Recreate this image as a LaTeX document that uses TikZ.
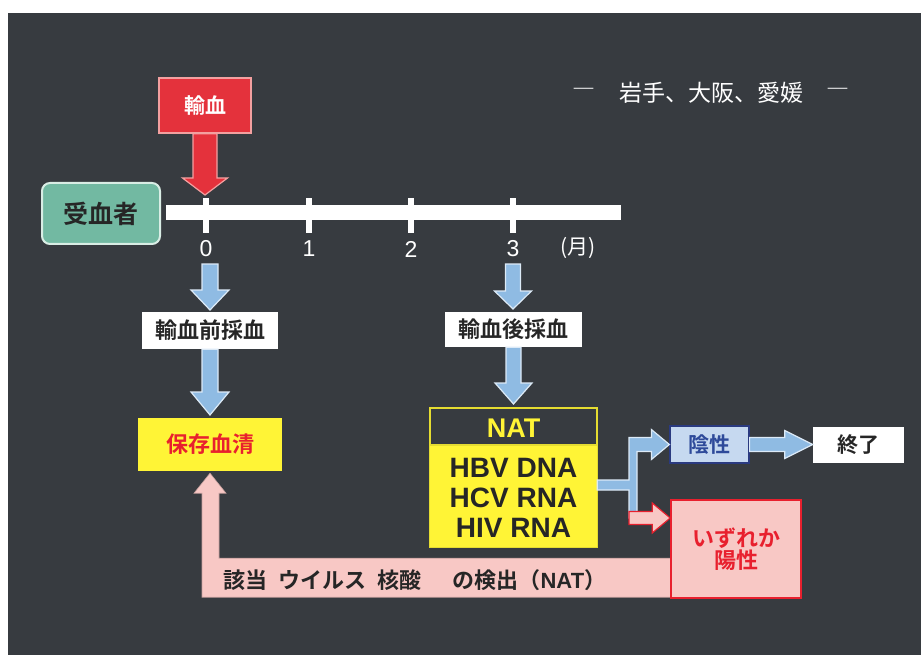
\documentclass[tikz,border=0pt]{standalone}
\usepackage{fontspec}
\setmainfont{Noto Sans CJK JP}[BoldFont={Noto Sans CJK JP Bold}]
\newfontfamily\lat{Liberation Sans}
\usetikzlibrary{calc}
\definecolor{bg}{HTML}{373B40}
\definecolor{redbox}{HTML}{E4323C}
\definecolor{redline}{HTML}{F3A0A0}
\definecolor{teal}{HTML}{72B9A2}
\definecolor{tealline}{HTML}{D9EDE5}
\definecolor{bluearr}{HTML}{8FBBE3}
\definecolor{bluearrline}{HTML}{DCEAF7}
\definecolor{yel}{HTML}{FFF436}
\definecolor{pinkf}{HTML}{F8C8C5}
\definecolor{redtxt}{HTML}{E8202E}
\definecolor{negf}{HTML}{C6D9F0}
\definecolor{negline}{HTML}{2A3A80}
\definecolor{negtxt}{HTML}{2E4A9A}
\definecolor{darktxt}{HTML}{262626}
\newcommand\fsz[1]{\fontsize{#1}{#1}\selectfont}
% down block arrow: style, from, to, shaft half, head half, head length
\newcommand\darrow[6]{\path[#1] let \p1=(#2), \p2=(#3) in
  (\x1-#4pt,\y1) -- (\x1+#4pt,\y1) -- (\x1+#4pt,\y2+#6pt) -- (\x1+#5pt,\y2+#6pt)
  -- (\x1,\y2) -- (\x1-#5pt,\y2+#6pt) -- (\x1-#4pt,\y2+#6pt) -- cycle;}
% right block arrow
\newcommand\rarrow[6]{\path[#1] let \p1=(#2), \p2=(#3) in
  (\x1,\y1-#4pt) -- (\x2-#6pt,\y1-#4pt) -- (\x2-#6pt,\y1-#5pt) -- (\x2,\y1)
  -- (\x2-#6pt,\y1+#5pt) -- (\x2-#6pt,\y1+#4pt) -- (\x1,\y1+#4pt) -- cycle;}
\begin{document}
\begin{tikzpicture}[x=1pt,y=-1pt,
  box/.style={inner sep=0pt, font=\bfseries},
  posshape/.style={minimum width=130, minimum height=98, inner sep=0pt},
  bluearrow/.style={fill=bluearr, draw=bluearrline, line width=1.2pt},
  redarrow/.style={fill=redbox, draw=redline, line width=1.2pt},
  pinkarrow/.style={fill=pinkf, draw=redtxt, line width=1.2pt},
  band/.style={fill=pinkf, draw=pinkf!80!black, line width=0.6pt},
  tick/.style={fill=white},
  ticklbl/.style={text=white, font=\lat\fsz{23}}]
\useasboundingbox (0,0) rectangle (921,655);
\fill[white] (0,0) rectangle (921,655);
\fill[bg] (8,13) rectangle (921,655);

% title
\node[text=white, font=\fsz{23}] (dashl) at (584,93) {―};
\node[text=white, font=\fsz{23}] (title) at (711,93) {岩手、大阪、愛媛};
\node[text=white, font=\fsz{23}] (dashr) at (838,93) {―};

% transfusion
\node[box, fill=redbox, draw=redline, line width=1.5pt, minimum width=92, minimum height=55,
  text=white, font=\bfseries\fsz{21}] (trans) at (205,105.5) {輸血};
\node[box, fill=teal, draw=tealline, line width=2pt, rounded corners=8pt, minimum width=118,
  minimum height=61, text=darktxt, font=\bfseries\fsz{25}] (recip) at (101,213.5) {受血者};

% timeline
\node[fill=white, minimum width=455, minimum height=15, inner sep=0pt] (tl) at (393.5,212.5) {};
\foreach \n/\x in {0/206,1/309,2/411,3/513}{
  \node[tick, minimum width=6, minimum height=35, inner sep=0pt] (tk\n) at (\x,215.5) {};
  \node[ticklbl] (lb\n) at (\x,249) {\n};
}
\node[text=white, font=\fsz{21}] (month) at (578,248) {(月)};
\coordinate (t0top) at (206,195);
\darrow{redarrow}{trans.south}{t0top}{12}{22.5}{17}

% left column
\coordinate (a0) at (210,264);
\node[box, fill=white, minimum width=136, minimum height=37, text=darktxt,
  font=\bfseries\fsz{22}] (pre) at (210,330.5) {輸血前採血};
\node[box, fill=yel, minimum width=144, minimum height=53, text=redtxt,
  font=\bfseries\fsz{22}] (serum) at (210,444.5) {保存血清};
\coordinate (pretip) at (210,310);
\darrow{bluearrow}{a0}{pretip}{8}{19}{20}
\coordinate (sertip) at (210,415);
\darrow{bluearrow}{pre.south}{sertip}{8}{19}{23}

% right column
\coordinate (a3) at (513,264);
\node[box, fill=white, minimum width=137, minimum height=35, text=darktxt,
  font=\bfseries\fsz{22}] (post) at (513.5,329.5) {輸血後採血};
\coordinate (posttip) at (513,309);
\darrow{bluearrow}{a3}{posttip}{7.5}{18.5}{18}
\coordinate (nattip) at (513,404);
\darrow{bluearrow}{post.south}{nattip}{7.5}{18.5}{21}

% NAT box
\node[fill=yel, minimum width=167, minimum height=139, inner sep=0pt] (nat) at (513.5,477.5) {};
\fill[bg] (nat.north west) rectangle ($(nat.north east)+(0,37)$);
\draw[yel!90!black, line width=1.5pt] (nat.north west) rectangle ($(nat.north east)+(0,37)$);
\draw[yel!90!black, line width=1.2pt] (nat.north west) rectangle (nat.south east);
\node[text=yel, font=\lat\bfseries\fsz{27}] (natlbl) at (513.5,428) {NAT};
\node[text=darktxt, font=\lat\bfseries\fontsize{28}{30}\selectfont, align=center, inner sep=0pt] (natbody) at (513.5,497.5)
  {HBV DNA\\HCV RNA\\HIV RNA};

% results
\node[box, fill=negf, draw=negline, line width=1.2pt, minimum width=79, minimum height=37,
  text=negtxt, font=\bfseries\fsz{21}] (neg) at (709.5,444.5) {陰性};
\node[box, fill=white, minimum width=91, minimum height=36, text=darktxt,
  font=\bfseries\fsz{21}] (end) at (858.5,445) {終了};

% pink feedback band (drawn before positive box)
\node[posshape] (posarea) at (736,549) {};
\path[band] let \p1=(posarea.south west), \p2=(serum.south) in
  (\x1+1pt,\y1+40pt) -- (\x2+9pt,\y1+40pt) -- (\x2+9pt,\y2-22pt) -- (\x2+16pt,\y2-22pt)
  -- (\x2,\y2-2pt) -- (\x2-16pt,\y2-22pt) -- (\x2-8pt,\y2-22pt) -- (\x2-8pt,\y1+1pt)
  -- (\x1+1pt,\y1+1pt) -- cycle;

\node[box, posshape, fill=pinkf, draw=redtxt, line width=1.5pt,
  text=redtxt, font=\bfseries\fsz{22}, align=center] (pos) at (736,549) {いずれか\\陽性};

\node[text=darktxt, font=\bfseries\fsz{22}, inner sep=0pt] (bandtxt) at (415,580)
  {該当\hspace{0.5em}ウイルス\hspace{0.5em}核酸\hspace{1.4em}の検出（{\lat NAT}）};

% branch
\path[bluearrow] let \p1=(nat.east), \p2=(neg.west) in
  (\x1,480) -- (629,480) |- (\x2-18pt,\y2+7pt) -- (\x2-18pt,\y2+15pt) -- (\x2,\y2)
  -- (\x2-18pt,\y2-15pt) -- (\x2-18pt,\y2-7pt) -- (637,\y2-7pt) -- (637,518) -- (629,518)
  -- (629,490) -- (\x1,490) -- cycle;
\path (pos.west) ++(0,-31) coordinate (pa);
\coordinate (pb) at (629,518);
\rarrow{pinkarrow}{pb}{pa}{6.5}{15}{18}
\rarrow{bluearrow}{neg.east}{end.west}{7}{14}{28}
\end{tikzpicture}
\end{document}
